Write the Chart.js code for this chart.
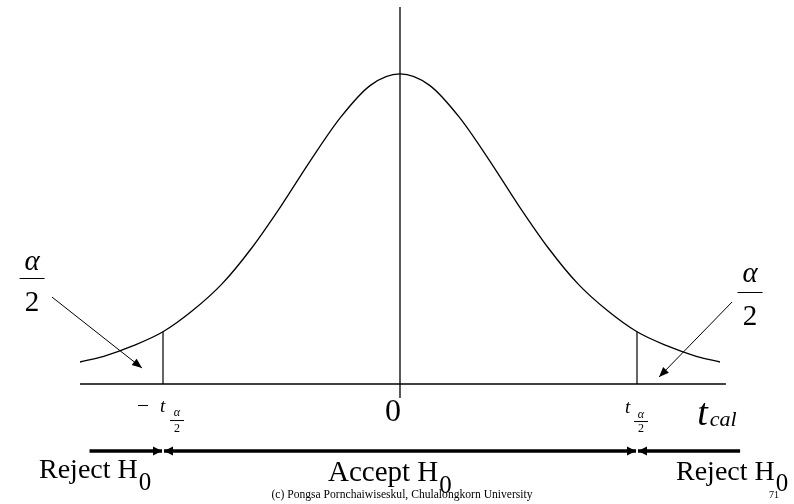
<!DOCTYPE html>
<html>
<head>
<meta charset="utf-8">
<title>t test - two tailed</title>
<script src="https://cdn.jsdelivr.net/npm/chart.js@4.4.1/dist/chart.umd.min.js"></script>
<style>
  html, body { margin: 0; padding: 0; background: #fff; }
  canvas { display: block; }
</style>
</head>
<body>
<canvas id="tChart" width="794" height="504"></canvas>
<script>
// t values along the curve and the density read at each one
const tValues = [-2.7, -2.5, -2.25, -2, -1.75, -1.5, -1.25, -1, -0.75, -0.5, -0.25, 0,
                 0.25, 0.5, 0.75, 1, 1.25, 1.5, 1.75, 2, 2.25, 2.5, 2.7];
const density = [0.027, 0.034, 0.047, 0.064, 0.090, 0.123, 0.167, 0.219, 0.275, 0.327, 0.366, 0.380,
                 0.366, 0.327, 0.275, 0.219, 0.167, 0.123, 0.090, 0.064, 0.047, 0.034, 0.027];

// critical value and the height of the curve there
const tCrit = 2;
const critHeight = 0.064;

// horizontal axis and the centre line
const axisRange = [-2.7, 2.75];
const centreLine = [-0.017, 0.462];

// reject / accept bands along the bottom
const rejectLeftStart = -2.62;
const rejectRightEnd = 2.87;

const ink = '#000';
const SERIF = '"Liberation Serif", "Times New Roman", serif';

const ctx = document.getElementById('tChart').getContext('2d');

function seg(x1, y1, x2, y2, width, color) {
  return {
    data: [{ x: x1, y: y1 }, { x: x2, y: y2 }],
    borderColor: color,
    borderWidth: width,
    pointRadius: 0,
    fill: false
  };
}

function arrowHead(c, fx, fy, tx, ty, len, half) {
  const a = Math.atan2(ty - fy, tx - fx);
  c.beginPath();
  c.moveTo(tx, ty);
  c.lineTo(tx - len * Math.cos(a) + half * Math.sin(a), ty - len * Math.sin(a) - half * Math.cos(a));
  c.lineTo(tx - len * Math.cos(a) - half * Math.sin(a), ty - len * Math.sin(a) + half * Math.cos(a));
  c.closePath();
  c.fill();
}

function arrow(c, fx, fy, tx, ty, width, len, half, headAtStart) {
  c.lineWidth = width;
  c.beginPath();
  c.moveTo(fx, fy);
  c.lineTo(tx, ty);
  c.stroke();
  arrowHead(c, fx, fy, tx, ty, len, half);
  if (headAtStart) arrowHead(c, tx, ty, fx, fy, len, half);
}

function text(c, str, x, y, size, opts) {
  opts = opts || {};
  c.font = (opts.italic ? 'italic ' : '') + size + 'px ' + SERIF;
  c.textAlign = opts.align || 'left';
  c.textBaseline = 'alphabetic';
  c.fillText(str, x, y);
  return c.measureText(str).width;
}

function hline(c, x1, x2, yy) {
  c.lineWidth = 1;
  c.beginPath();
  c.moveTo(x1, yy + 0.5);
  c.lineTo(x2, yy + 0.5);
  c.stroke();
}

function fraction(c, top, cx, topBase, barY, botBase, size, barHalf) {
  text(c, top, cx, topBase, size, { italic: true, align: 'center' });
  hline(c, cx - barHalf, cx + barHalf, barY);
  text(c, '2', cx, botBase, size, { align: 'center' });
}

const annotations = {
  id: 'annotations',
  afterDatasetsDraw(chart) {
    const c = chart.ctx;
    const { x, y } = chart.scales;
    const px = v => x.getPixelForValue(v);
    const py = v => y.getPixelForValue(v);
    const x0 = px(0), yAxis = py(0);
    const xl = px(-tCrit), xr = px(tCrit);

    c.save();
    c.fillStyle = ink;
    c.strokeStyle = ink;

    // tick labels under the axis
    text(c, '0', x0 - 7, yAxis + 37, 32, { align: 'center' });

    hline(c, xl - 25, xl - 15, yAxis + 21);
    text(c, 't', xl - 3, yAxis + 28, 19, { italic: true });
    fraction(c, '\u03b1', xl + 14, yAxis + 32, yAxis + 36, yAxis + 48, 12, 7);

    text(c, 't', xr - 12, yAxis + 29, 19, { italic: true });
    fraction(c, '\u03b1', xr + 4, yAxis + 34, yAxis + 37, yAxis + 48, 12, 7);

    const w = text(c, 't', px(2.5) + 1, yAxis + 41, 38, { italic: true });
    text(c, 'cal', px(2.5) + 1 + w + 2, yAxis + 42, 22, { italic: true });

    // alpha/2 tail labels with pointers
    fraction(c, '\u03b1', px(-3.105), 270, 278, 311, 29, 12.5);
    fraction(c, '\u03b1', px(2.954), 282, 292, 325, 29, 12.5);
    arrow(c, px(-2.937), py(0.1066), px(-2.177), py(0.0196), 1, 10, 4);
    arrow(c, px(2.802), py(0.1005), px(2.186), py(0.0086), 1, 10, 4);

    // decision regions
    const yb = yAxis + 67;
    arrow(c, px(rejectLeftStart), yb, xl - 1, yb, 3.5, 9, 4.5);
    arrow(c, xl + 1, yb, xr - 1, yb, 3.5, 9, 4.5, true);
    arrow(c, px(rejectRightEnd), yb, xr + 1, yb, 3.5, 9, 4.5);

    let wr = text(c, 'Reject H', 39, 478, 28);
    text(c, '0', 39 + wr + 1, 490, 25);
    const wa = text(c, 'Accept H', 328, 481, 29);
    text(c, '0', 328 + wa + 1, 493, 25);
    wr = text(c, 'Reject H', 676, 480, 28);
    text(c, '0', 676 + wr + 1, 491, 25);

    // footer
    text(c, '(c) Pongsa Pornchaiwiseskul, Chulalongkorn University', x0 + 2, 498, 11.6, { align: 'center' });
    text(c, '71', 774, 498, 10, { align: 'center' });

    c.restore();
  }
};

new Chart(ctx, {
  type: 'line',
  data: {
    datasets: [
      {
        data: tValues.map((t, i) => ({ x: t, y: density[i] })),
        borderColor: ink,
        borderWidth: 1.3,
        pointRadius: 0,
        fill: false,
        cubicInterpolationMode: 'monotone'
      },
      seg(axisRange[0], 0, axisRange[1], 0, 1.5, ink),
      seg(0, centreLine[0], 0, centreLine[1], 1.5, '#222'),
      seg(-tCrit, 0, -tCrit, critHeight, 1.5, '#333'),
      seg(tCrit, 0, tCrit, critHeight, 1.5, '#333')
    ]
  },
  options: {
    responsive: false,
    animation: false,
    layout: { padding: 0 },
    plugins: {
      legend: { display: false },
      tooltip: { enabled: false }
    },
    scales: {
      x: { type: 'linear', min: -3.3755, max: 3.3249, display: false },
      y: { type: 'linear', min: -0.147, max: 0.4706, display: false }
    }
  },
  plugins: [annotations]
});
</script>
</body>
</html>
